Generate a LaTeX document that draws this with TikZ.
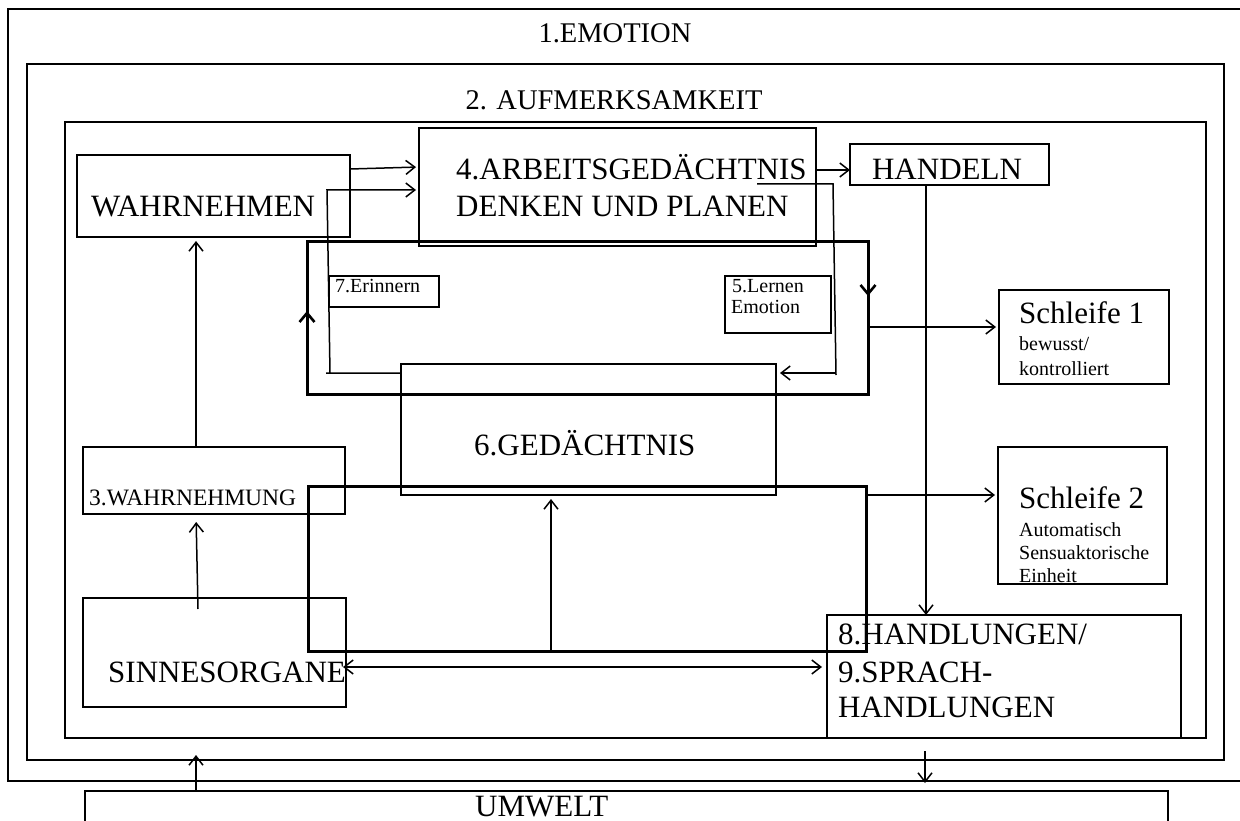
\documentclass[tikz,border=0pt]{standalone}
\usepackage{fontspec}
\setmainfont{Liberation Serif}
\usetikzlibrary{arrows.meta}
\begin{document}
\begin{tikzpicture}[x=1pt,y=-1pt,
  box/.style={draw, line width=1.8pt, inner sep=0pt, outer sep=0pt},
  thickbox/.style={draw, line width=3pt, inner sep=0pt, outer sep=0pt},
  sbox/.style={draw, line width=2.6pt, inner sep=0pt, outer sep=0pt},
  big/.style={inner sep=0pt, font=\fontsize{31}{36}\selectfont},
  mid/.style={inner sep=0pt, font=\fontsize{28.5}{34}\selectfont},
  lab/.style={inner sep=0pt, font=\fontsize{23.5}{27}\selectfont},
  small/.style={inner sep=0pt, font=\fontsize{20}{23}\selectfont},
  arr/.style={line width=1.5pt, -{Straight Barb[length=9pt,width=14pt]}},
  tarr/.style={line width=2.6pt, -{Straight Barb[length=9pt,width=15pt]}},
  ln/.style={line width=1.5pt},
]
\clip (0,0) rectangle (1240,821);
% frames
\node[box, minimum width=1242pt, minimum height=772pt] (emo) at (629,395) {};
\node[box, minimum width=1197pt, minimum height=696pt] (auf) at (625.5,412) {};
\node[box, minimum width=1141pt, minimum height=616pt] (inn) at (635.5,430) {};
\node[mid, anchor=base] (emoT) at (615,43) {1.EMOTION};
\node[mid, anchor=base] (aufT) at (614,110) {2. AUFMERKSAMKEIT};
% boxes
\node[box, minimum width=273pt, minimum height=82pt] (wn) at (213.5,196) {};
\node[box, minimum width=397pt, minimum height=118pt] (ag) at (617.5,187) {};
\node[box, minimum width=199pt, minimum height=41pt] (hd) at (949.5,164.5) {};
\node[thickbox, minimum width=561pt, minimum height=152pt] (lu) at (587.5,318) {};
\node[box, minimum width=110pt, minimum height=31pt] (er) at (384,291.5) {};
\node[box, minimum width=106pt, minimum height=57pt] (le) at (778,304.5) {};
\node[box, minimum width=375pt, minimum height=131pt] (gd) at (588.5,429.5) {};
\node[sbox, minimum width=170pt, minimum height=94pt] (s1) at (1084,337) {};
\node[sbox, minimum width=169pt, minimum height=137pt] (s2) at (1082.5,515.5) {};
\node[box, minimum width=262pt, minimum height=67pt] (wg) at (214,480.5) {};
\node[thickbox, minimum width=558pt, minimum height=165pt] (ll) at (587,568.5) {};
\node[box, minimum width=263pt, minimum height=109pt] (so) at (214.5,652.5) {};
\node[box, minimum width=354pt, minimum height=123pt] (hl) at (1004,676.5) {};
\node[box, minimum width=1083pt, minimum height=49pt] (uw) at (626.5,815.5) {};
% texts
\node[big, anchor=base west] (wnT) at (91,217) {WAHRNEHMEN};
\node[big, anchor=base west] (agT1) at (456,180) {4.ARBEITSGEDÄCHTNIS};
\node[big, anchor=base west] (agT2) at (456,217) {DENKEN UND PLANEN};
\node[big, anchor=base] (hdT) at (947,180) {HANDELN};
\node[small, anchor=base west] (erT) at (335,292) {7.Erinnern};
\node[small, anchor=base west] (leT1) at (732,292) {5.Lernen};
\node[small, anchor=base west] (leT2) at (731,313) {Emotion};
\node[big, anchor=base west] (gdT) at (474,455) {6.GEDÄCHTNIS};
\node[big, anchor=base west] (s1T) at (1019,323) {Schleife 1};
\node[small, anchor=base west] (s1a) at (1019,350) {bewusst/};
\node[small, anchor=base west] (s1b) at (1019,375) {kontrolliert};
\node[big, anchor=base west] (s2T) at (1019,508) {Schleife 2};
\node[small, anchor=base west] (s2a) at (1019,536) {Automatisch};
\node[small, anchor=base west] (s2b) at (1019,559) {Sensuaktorische};
\node[small, anchor=base west] (s2c) at (1019,582) {Einheit};
\node[lab, anchor=base west] (wgT) at (89,505) {3.WAHRNEHMUNG};
\node[big, anchor=base west] (soT) at (108,682) {SINNESORGANE};
\node[big, anchor=base west] (hlT1) at (838,644) {8.HANDLUNGEN/};
\node[big, anchor=base west] (hlT2) at (838,682) {9.SPRACH-};
\node[big, anchor=base west] (hlT3) at (838,717) {HANDLUNGEN};
\node[big, anchor=base west] (uwT) at (475,816) {UMWELT};
% connectors
\draw[arr, shorten >=3pt] (wn.east |- 0,169) -- (ag.west |- 0,167);
\draw[arr, shorten >=3pt] (gd.west |- 0,373) -- (326,373) -- (330,373) -- (327,190) -- (ag.west |- 0,190);
\draw[arr] (ag.east |- 0,170) -- (hd.west |- 0,170);
\coordinate (a4) at (757,184);
\draw[ln] (a4) -- (833,184) -- (836,375);
\draw[arr, shorten >=4pt] (835,373) -- (gd.east |- 0,373);
\draw[tarr] (lu.south west) -- (lu.west |- 0,311);
\draw[tarr] (lu.north east) -- (lu.east |- 0,296);
\draw[arr, shorten >=3pt] (lu.east |- 0,327) -- (s1.west |- 0,327);
\draw[arr, shorten >=4pt] (wg.north -| 196,0) -- (wn.south -| 196,0);
\coordinate (a9) at (198,609);
\draw[arr, shorten >=8pt] (a9) -- (wg.south -| 196,0);
\draw[arr, shorten >=4pt] (ll.south -| 551,0) -- (gd.south -| 551,0);
\draw[arr, shorten >=3pt] (ll.east |- 0,495) -- (s2.west |- 0,495);
\draw[arr] (hd.south -| 926,0) -- (hl.north -| 926,0);
\draw[line width=1.5pt, {Straight Barb[length=9pt,width=14pt]}-{Straight Barb[length=9pt,width=14pt]}, shorten <=-3pt, shorten >=5pt] (so.east |- 0,667) -- (hl.west |- 0,667);
\coordinate (u1) at (196,755);
\draw[arr] (uw.north -| 196,0) -- (u1);
\coordinate (d1) at (925,751);
\coordinate (d2) at (925,783);
\draw[arr] (d1) -- (d2);
\end{tikzpicture}
\end{document}
